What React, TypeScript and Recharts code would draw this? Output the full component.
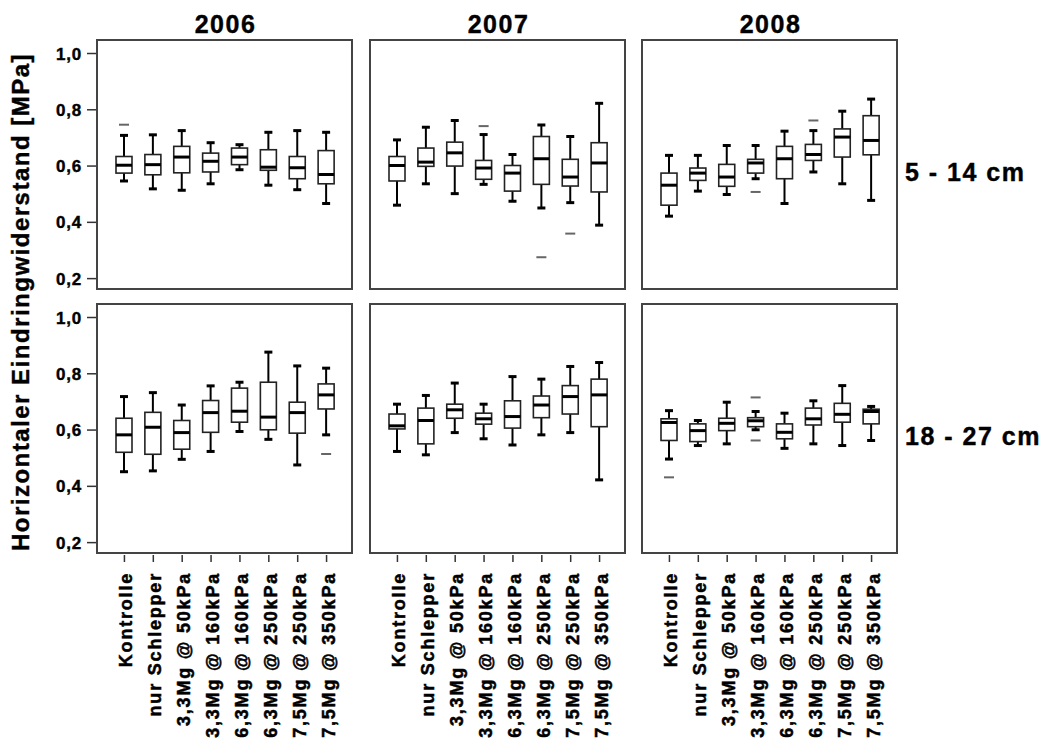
import React from 'react';
import { ComposedChart, Bar, XAxis, YAxis } from 'recharts';

const categories = [
  'Kontrolle',
  'nur Schlepper',
  '3,3Mg @ 50kPa',
  '3,3Mg @ 160kPa',
  '6,3Mg @ 160kPa',
  '6,3Mg @ 250kPa',
  '7,5Mg @ 250kPa',
  '7,5Mg @ 350kPa',
];
const years = ['2006', '2007', '2008'];
const depths = ['5 - 14 cm', '18 - 27 cm'];
const yTicks = [0.2, 0.4, 0.6, 0.8, 1.0];

// each row: [min, q1, median, q3, max] for one category
const upper2006 = [
  [0.547, 0.575, 0.603, 0.634, 0.709],
  [0.519, 0.569, 0.605, 0.641, 0.711],
  [0.514, 0.576, 0.632, 0.67, 0.726],
  [0.537, 0.579, 0.617, 0.646, 0.683],
  [0.587, 0.605, 0.632, 0.664, 0.676],
  [0.532, 0.585, 0.596, 0.658, 0.72],
  [0.516, 0.555, 0.594, 0.634, 0.726],
  [0.467, 0.537, 0.57, 0.655, 0.72],
];
const upper2007 = [
  [0.461, 0.547, 0.602, 0.634, 0.693],
  [0.537, 0.599, 0.614, 0.664, 0.738],
  [0.502, 0.6, 0.647, 0.685, 0.762],
  [0.535, 0.553, 0.593, 0.62, 0.712],
  [0.475, 0.511, 0.575, 0.602, 0.641],
  [0.451, 0.535, 0.626, 0.705, 0.746],
  [0.47, 0.529, 0.561, 0.624, 0.705],
  [0.39, 0.508, 0.611, 0.683, 0.823],
];
const upper2008 = [
  [0.422, 0.461, 0.532, 0.575, 0.638],
  [0.511, 0.549, 0.575, 0.593, 0.638],
  [0.499, 0.528, 0.561, 0.606, 0.673],
  [0.555, 0.575, 0.611, 0.624, 0.673],
  [0.467, 0.555, 0.626, 0.67, 0.724],
  [0.579, 0.62, 0.641, 0.677, 0.726],
  [0.537, 0.632, 0.703, 0.732, 0.795],
  [0.478, 0.64, 0.691, 0.779, 0.838],
];
const lower2006 = [
  [0.452, 0.521, 0.583, 0.642, 0.719],
  [0.455, 0.514, 0.61, 0.663, 0.733],
  [0.496, 0.532, 0.591, 0.634, 0.689],
  [0.524, 0.592, 0.662, 0.705, 0.757],
  [0.595, 0.628, 0.667, 0.749, 0.77],
  [0.567, 0.601, 0.646, 0.77, 0.877],
  [0.476, 0.589, 0.662, 0.699, 0.828],
  [0.583, 0.675, 0.725, 0.764, 0.82],
];
const lower2007 = [
  [0.524, 0.604, 0.615, 0.657, 0.692],
  [0.512, 0.551, 0.634, 0.678, 0.723],
  [0.591, 0.642, 0.672, 0.692, 0.767],
  [0.569, 0.621, 0.64, 0.66, 0.692],
  [0.547, 0.607, 0.648, 0.704, 0.79],
  [0.583, 0.644, 0.689, 0.721, 0.781],
  [0.591, 0.657, 0.719, 0.758, 0.826],
  [0.423, 0.612, 0.725, 0.781, 0.84],
];
const lower2008 = [
  [0.497, 0.563, 0.627, 0.64, 0.669],
  [0.545, 0.559, 0.598, 0.622, 0.634],
  [0.551, 0.598, 0.624, 0.642, 0.699],
  [0.601, 0.612, 0.633, 0.644, 0.666],
  [0.535, 0.569, 0.592, 0.622, 0.66],
  [0.551, 0.618, 0.64, 0.678, 0.704],
  [0.545, 0.628, 0.656, 0.695, 0.758],
  [0.563, 0.622, 0.666, 0.674, 0.684],
];

// outliers: [category index, value]
const upper2006Out = [[0, 0.747]];
const upper2007Out = [[3, 0.742], [5, 0.276], [6, 0.36]];
const upper2008Out = [[3, 0.508], [5, 0.762]];
const lower2006Out = [[7, 0.515]];
const lower2007Out: number[][] = [];
const lower2008Out = [[0, 0.432], [3, 0.716], [3, 0.563]];

const panels = [
  [upper2006, upper2007, upper2008],
  [lower2006, lower2007, lower2008],
];
const panelOutliers = [
  [upper2006Out, upper2007Out, upper2008Out],
  [lower2006Out, lower2007Out, lower2008Out],
];

const FONT = '"Liberation Sans", Arial, sans-serif';
const PANEL_W = 257;
const PANEL_H = 251;
const colLeft = [97, 370, 642];
const rowTop = [40, 304];

function BoxShape(props: any) {
  const { x, y, width, height, payload } = props;
  const top = Math.min(y, y + height);
  const h = Math.abs(height);
  const { min, q1, median, q3, max, out } = payload;
  const py = (v: number) => top + (h * (max - v)) / (max - min);
  const cx = x + width / 2;
  return (
    <g>
      <line x1={cx} x2={cx} y1={py(max)} y2={py(q3)} stroke="#000" strokeWidth={2} />
      <line x1={cx} x2={cx} y1={py(q1)} y2={py(min)} stroke="#000" strokeWidth={2} />
      <line x1={cx - 4} x2={cx + 4} y1={py(max)} y2={py(max)} stroke="#000" strokeWidth={3} />
      <line x1={cx - 4} x2={cx + 4} y1={py(min)} y2={py(min)} stroke="#000" strokeWidth={3} />
      <rect x={x} y={py(q3)} width={width} height={py(q1) - py(q3)} fill="#fff" stroke="#222" strokeWidth={1.6} />
      <line x1={x} x2={x + width} y1={py(median)} y2={py(median)} stroke="#000" strokeWidth={3} />
      {out.map((v: number, i: number) => (
        <line key={i} x1={cx - 5} x2={cx + 5} y1={py(v)} y2={py(v)} stroke="#666" strokeWidth={2} />
      ))}
    </g>
  );
}

function CatTick({ x, y, payload }: any) {
  return (
    <text
      transform={`translate(${x + 8},${y + 8}) rotate(-90)`}
      textAnchor="end"
      fontFamily={FONT}
      fontWeight="bold"
      fontSize={18}
      letterSpacing={1.8}
      fill="#000"
      stroke="#000"
      strokeWidth={0.5}
    >
      {payload.value}
    </text>
  );
}

function ValueTick({ x, y, payload }: any) {
  return (
    <text
      x={x}
      y={y}
      dy={6}
      textAnchor="end"
      fontFamily={FONT}
      fontWeight="bold"
      fontSize={17}
      letterSpacing={0.8}
      fill="#000"
      stroke="#000"
      strokeWidth={0.4}
    >
      {payload.value.toFixed(1).replace('.', ',')}
    </text>
  );
}

function Panel({ row, col }: { row: number; col: number }) {
  const rows = panels[row][col];
  const outs = panelOutliers[row][col];
  const data = categories.map((c, i) => ({
    cat: c,
    min: rows[i][0],
    q1: rows[i][1],
    median: rows[i][2],
    q3: rows[i][3],
    max: rows[i][4],
    out: outs.filter((o) => o[0] === i).map((o) => o[1]),
  }));
  const showY = col === 0;
  const showX = row === 1;
  const yW = showY ? colLeft[0] : 0;
  const xH = showX ? 744 - rowTop[1] - PANEL_H : 0;
  return (
    <div style={{ position: 'absolute', left: colLeft[col] - yW, top: rowTop[row] }}>
      <ComposedChart
        width={PANEL_W + yW}
        height={PANEL_H + xH}
        data={data}
        margin={{ top: 0, right: 0, bottom: 0, left: 0 }}
      >
        <XAxis
          dataKey="cat"
          hide={!showX}
          height={xH || 1}
          padding={{ left: 13, right: 13 }}
          interval={0}
          tick={<CatTick />}
          tickSize={7}
          tickLine={{ stroke: '#333', strokeWidth: 1.5 }}
          axisLine={false}
        />
        <YAxis
          hide={!showY}
          width={yW || 1}
          domain={[0.156, 1.048]}
          ticks={yTicks}
          allowDataOverflow
          tick={<ValueTick />}
          tickSize={10}
          tickMargin={5}
          tickLine={{ stroke: '#333', strokeWidth: 1.5 }}
          axisLine={false}
        />
        <Bar
          dataKey={(d: any) => [d.min, d.max]}
          barSize={16}
          shape={BoxShape}
          isAnimationActive={false}
        />
      </ComposedChart>
      <div
        style={{
          position: 'absolute',
          left: yW - 1,
          top: -1,
          width: PANEL_W,
          height: PANEL_H,
          border: '2px solid #444',
          boxSizing: 'border-box',
          pointerEvents: 'none',
        }}
      />
    </div>
  );
}

export default function App() {
  return (
    <div style={{ position: 'absolute', left: 0, top: 0, width: 1046, height: 744, background: '#fff' }}>
      {[0, 1].map((r) => [0, 1, 2].map((c) => <Panel key={`${r}-${c}`} row={r} col={c} />))}
      <svg width={1046} height={744} style={{ position: 'absolute', left: 0, top: 0, pointerEvents: 'none' }}>
        {years.map((yr, i) => (
          <text
            key={yr}
            x={colLeft[i] + PANEL_W / 2}
            y={33}
            textAnchor="middle"
            fontFamily={FONT}
            fontWeight="bold"
            fontSize={25}
            letterSpacing={1.5}
            stroke="#000"
            strokeWidth={0.4}
          >
            {yr}
          </text>
        ))}
        {depths.map((d, i) => (
          <text
            key={d}
            x={905}
            y={[181, 445][i]}
            fontFamily={FONT}
            fontWeight="bold"
            fontSize={25}
            letterSpacing={1.5}
            stroke="#000"
            strokeWidth={0.4}
          >
            {d}
          </text>
        ))}
        <text
          transform="translate(20,302) rotate(-90)"
          textAnchor="middle"
          dominantBaseline="central"
          fontFamily={FONT}
          fontWeight="bold"
          fontSize={24}
          letterSpacing={1.5}
          stroke="#000"
          strokeWidth={0.4}
        >
          Horizontaler Eindringwiderstand [MPa]
        </text>
      </svg>
    </div>
  );
}
